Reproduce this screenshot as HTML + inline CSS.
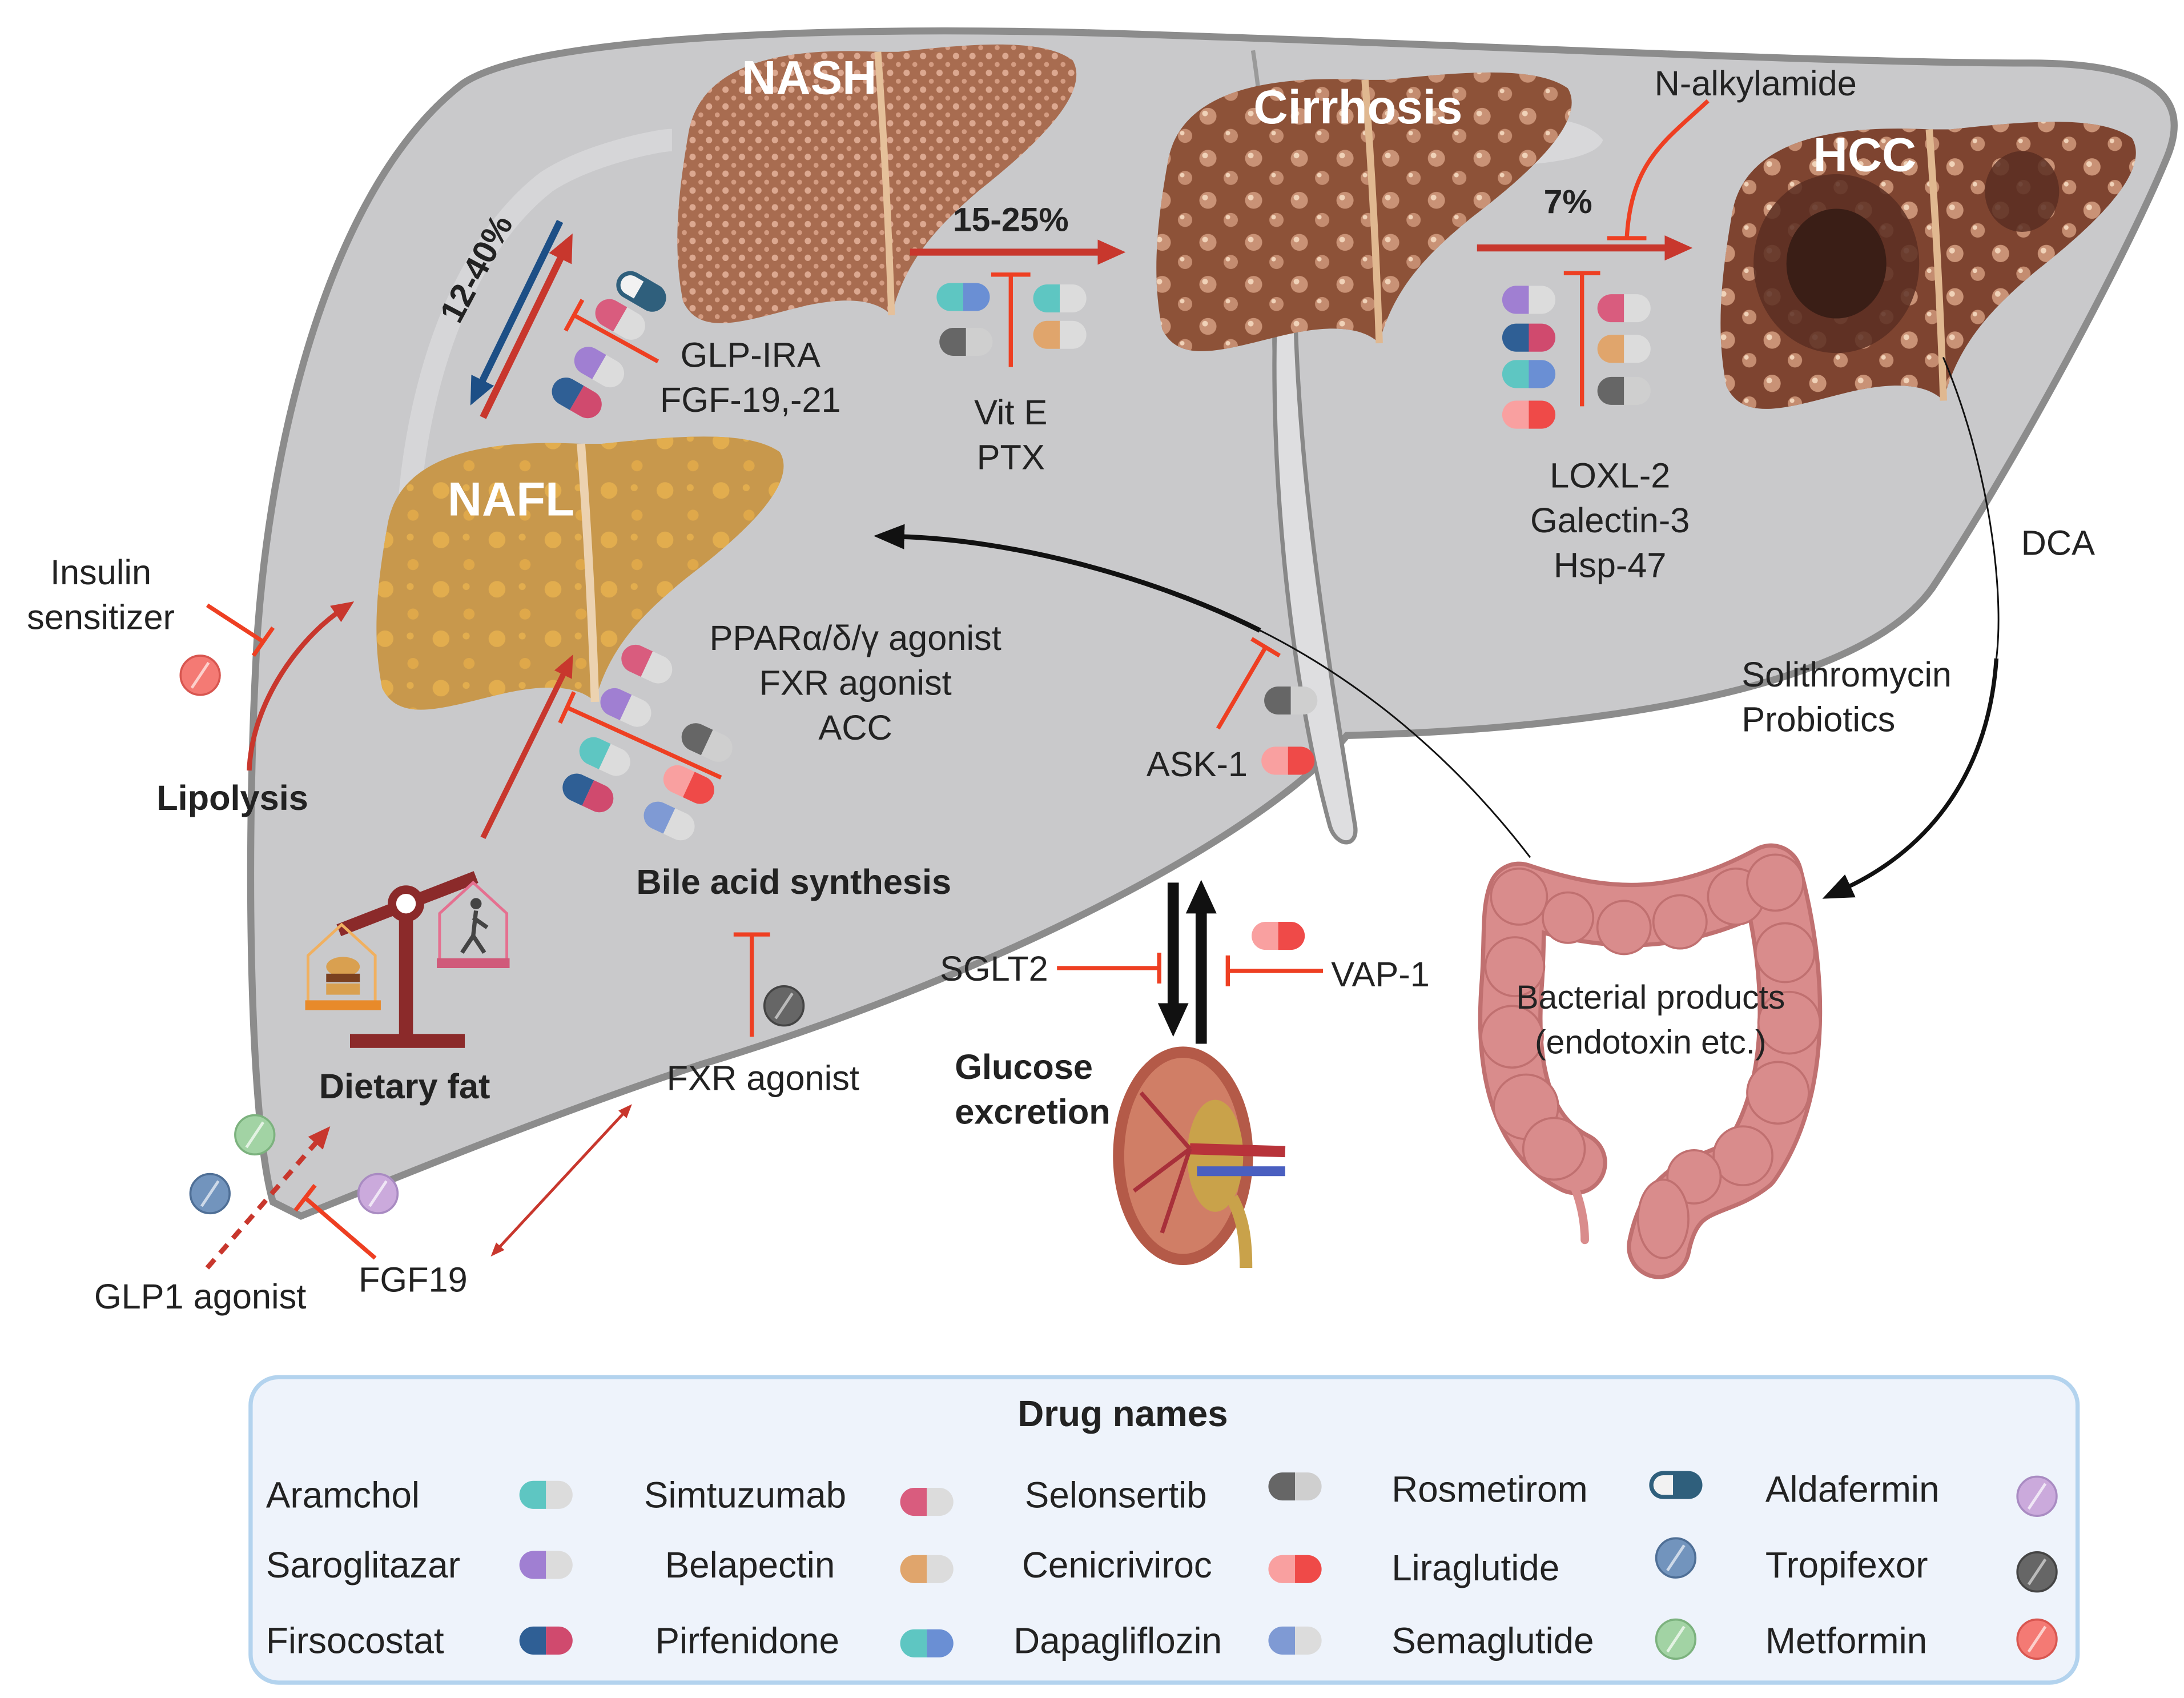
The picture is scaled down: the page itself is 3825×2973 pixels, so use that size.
<!DOCTYPE html>
<html><head><meta charset="utf-8"><style>
html,body{margin:0;padding:0;background:#fff;}
svg{display:block;}
text{font-family:"Liberation Sans Narrow","Liberation Sans",sans-serif;fill:#222;}
.b{font-weight:bold;}
.w{fill:#fff;font-weight:bold;}
</style></head><body>
<svg width="3825" height="2973" viewBox="0 0 1560 1212" preserveAspectRatio="none" xmlns="http://www.w3.org/2000/svg">
<defs>
<g id="pA"><path d="M0,-10H-9A10,10 0 0 0 -9,10H0Z" fill="#5ec6c2"/><path d="M0,-10H9A10,10 0 0 1 9,10H0Z" fill="#dcdcdc"/></g>
<g id="pS"><path d="M0,-10H-9A10,10 0 0 0 -9,10H0Z" fill="#d95c7e"/><path d="M0,-10H9A10,10 0 0 1 9,10H0Z" fill="#dcdcdc"/></g>
<g id="pSel"><path d="M0,-10H-9A10,10 0 0 0 -9,10H0Z" fill="#666"/><path d="M0,-10H9A10,10 0 0 1 9,10H0Z" fill="#cfcfcf"/></g>
<g id="pR"><rect x="-19" y="-10" width="38" height="20" rx="10" fill="#2f5f7c"/><path d="M-2,-7H-9A7,7 0 0 0 -9,7H-2Z" fill="#f2f2f2"/></g>
<g id="pSar"><path d="M0,-10H-9A10,10 0 0 0 -9,10H0Z" fill="#a07fd2"/><path d="M0,-10H9A10,10 0 0 1 9,10H0Z" fill="#dcdcdc"/></g>
<g id="pB"><path d="M0,-10H-9A10,10 0 0 0 -9,10H0Z" fill="#e0a56c"/><path d="M0,-10H9A10,10 0 0 1 9,10H0Z" fill="#dcdcdc"/></g>
<g id="pC"><path d="M0,-10H-9A10,10 0 0 0 -9,10H0Z" fill="#f9a0a0"/><path d="M0,-10H9A10,10 0 0 1 9,10H0Z" fill="#ef4a48"/></g>
<g id="pF"><path d="M0,-10H-9A10,10 0 0 0 -9,10H0Z" fill="#2f5f95"/><path d="M0,-10H9A10,10 0 0 1 9,10H0Z" fill="#d04a6e"/></g>
<g id="pP"><path d="M0,-10H-9A10,10 0 0 0 -9,10H0Z" fill="#5ec6c2"/><path d="M0,-10H9A10,10 0 0 1 9,10H0Z" fill="#6a8fd4"/></g>
<g id="pD"><path d="M0,-10H-9A10,10 0 0 0 -9,10H0Z" fill="#7f9ad4"/><path d="M0,-10H9A10,10 0 0 1 9,10H0Z" fill="#dcdcdc"/></g>
<g id="tAl"><circle r="14" fill="#cbaadc" stroke="#a98bc2" stroke-width="1.5"/><line x1="-6" y1="9" x2="6" y2="-9" stroke="#efe6f5" stroke-width="2"/></g>
<g id="tL"><circle r="14" fill="#7294bd" stroke="#4f6f96" stroke-width="1.5"/><line x1="-6" y1="9" x2="6" y2="-9" stroke="#cdd9e8" stroke-width="2"/></g>
<g id="tT"><circle r="14" fill="#666" stroke="#444" stroke-width="1.5"/><line x1="-6" y1="9" x2="6" y2="-9" stroke="#bbb" stroke-width="2"/></g>
<g id="tSe"><circle r="14" fill="#a2d3a4" stroke="#7cb27e" stroke-width="1.5"/><line x1="-6" y1="9" x2="6" y2="-9" stroke="#e3f2e3" stroke-width="2"/></g>
<g id="tM"><circle r="14" fill="#f47a74" stroke="#d85650" stroke-width="1.5"/><line x1="-6" y1="9" x2="6" y2="-9" stroke="#fcd0cc" stroke-width="2"/></g>
<path id="liv" d="M12,70 C20,25 70,8 150,12 L165,12 C220,6 270,2 292,18 C305,40 270,75 225,110 C195,135 170,160 160,200 C150,190 130,185 90,195 C50,205 20,215 8,190 C0,150 5,110 12,70Z"/>
<pattern id="ptN" width="12" height="12" patternUnits="userSpaceOnUse"><circle cx="3" cy="3" r="2.3" fill="#dca890"/><circle cx="9" cy="9" r="1.8" fill="#d49c82"/></pattern>
<pattern id="ptC" width="32" height="30" patternUnits="userSpaceOnUse"><circle cx="8" cy="8" r="6" fill="#c99276"/><circle cx="6" cy="6" r="2" fill="#f0d2b8"/><circle cx="24" cy="22" r="5" fill="#c48c70"/><circle cx="22" cy="20" r="1.6" fill="#f0d2b8"/></pattern>
<pattern id="ptF" width="40" height="36" patternUnits="userSpaceOnUse"><circle cx="10" cy="10" r="6" fill="#e2ad4e"/><circle cx="30" cy="28" r="4" fill="#dfa84a"/><circle cx="28" cy="8" r="2.5" fill="#e2ad4e"/></pattern>
<marker id="mrL" markerUnits="userSpaceOnUse" markerWidth="22" markerHeight="22" refX="4" refY="11" orient="auto"><path d="M0,2L20,11L0,20Z" fill="#c8372d"/></marker>
<marker id="mbL" markerUnits="userSpaceOnUse" markerWidth="22" markerHeight="22" refX="4" refY="11" orient="auto"><path d="M0,2L20,11L0,20Z" fill="#1d4f86"/></marker>
<marker id="mrM" markerUnits="userSpaceOnUse" markerWidth="18" markerHeight="18" refX="4" refY="9" orient="auto"><path d="M0,2L16,9L0,16Z" fill="#c8372d"/></marker>
<marker id="mrS" markerUnits="userSpaceOnUse" markerWidth="12" markerHeight="12" refX="2" refY="6" orient="auto-start-reverse"><path d="M0,2L10,6L0,10Z" fill="#c8372d"/></marker>
<marker id="mkL" markerUnits="userSpaceOnUse" markerWidth="26" markerHeight="26" refX="4" refY="13" orient="auto"><path d="M0,2L24,13L0,24Z" fill="#111"/></marker>
<marker id="mkM" markerUnits="userSpaceOnUse" markerWidth="24" markerHeight="22" refX="4" refY="11" orient="auto"><path d="M0,2L22,11L0,20Z" fill="#111"/></marker>
</defs>

<!-- big grey liver -->
<path d="M195,858 C178,800 175,600 184,450 C195,300 240,130 330,60 C380,25 600,18 800,24 C1000,30 1300,45 1450,45 C1540,45 1565,70 1548,112 C1520,180 1440,330 1380,420 C1330,490 1150,520 962,525 C900,600 700,700 500,760 C380,800 260,850 215,868 Z" fill="#c9c9cb" stroke="#8c8c8c" stroke-width="5"/>
<path d="M300,480 C275,380 300,200 390,130 C420,110 470,100 480,100" fill="none" stroke="#d6d6d8" stroke-width="16"/>
<path d="M895,36 C920,200 900,400 940,525" fill="none" stroke="#9a9a9a" stroke-width="3"/>
<path d="M912,200 C905,320 920,480 950,590 C955,605 970,605 968,590 C950,480 925,330 925,200Z" fill="#dedee0" stroke="#888" stroke-width="3"/>
<path d="M1000,90 C1080,80 1130,80 1145,100 C1140,115 1090,120 1040,118" fill="#d8d8da"/>

<!-- livers -->
<g transform="translate(480,25) scale(0.98,1.0)"><use href="#liv" fill="#a86c50"/><use href="#liv" fill="url(#ptN)"/><path d="M150,12 C155,80 158,140 160,200" stroke="#e5c09a" stroke-width="5" fill="none"/></g>
<g transform="translate(822,45) scale(1.02,1.0)"><use href="#liv" fill="#8d5238"/><use href="#liv" fill="url(#ptC)"/><path d="M150,12 C155,80 158,140 160,200" stroke="#e0b890" stroke-width="5" fill="none"/></g>
<g transform="translate(1225,80) scale(1.02,1.03)"><use href="#liv" fill="#7e4430"/><use href="#liv" fill="url(#ptC)"/><ellipse cx="85" cy="105" rx="58" ry="62" fill="#5a2e22" opacity="0.85"/><ellipse cx="85" cy="105" rx="35" ry="38" fill="#3a1e16"/><ellipse cx="215" cy="55" rx="26" ry="28" fill="#5a2e22" opacity="0.85"/><path d="M150,12 C155,80 158,140 160,200" stroke="#e0b890" stroke-width="5" fill="none"/></g>
<g transform="translate(265,305) scale(1.0,0.98)"><use href="#liv" fill="#c8984c"/><use href="#liv" fill="url(#ptF)"/><path d="M150,12 C155,80 158,140 160,200" stroke="#ecd2b0" stroke-width="6" fill="none"/></g>

<text x="578" y="67" class="w" font-size="34" text-anchor="middle">NASH</text>
<text x="970" y="88" class="w" font-size="34" text-anchor="middle">Cirrhosis</text>
<text x="1332" y="122" class="w" font-size="34" text-anchor="middle">HCC</text>
<text x="365" y="368" class="w" font-size="34" text-anchor="middle">NAFL</text>

<!-- progression arrows -->
<line x1="345" y1="298" x2="402" y2="181" stroke="#c8372d" stroke-width="5" marker-end="url(#mrL)"/>
<line x1="400" y1="158" x2="343" y2="275" stroke="#1d4f86" stroke-width="5" marker-end="url(#mbL)"/>
<text transform="translate(328,232) rotate(-62)" font-size="24" class="b">12-40%</text>
<line x1="650" y1="180" x2="788" y2="180" stroke="#c8372d" stroke-width="5" marker-end="url(#mrL)"/>
<text x="722" y="165" font-size="24" class="b" text-anchor="middle">15-25%</text>
<line x1="1055" y1="177" x2="1193" y2="177" stroke="#c8372d" stroke-width="5" marker-end="url(#mrL)"/>
<text x="1120" y="152" font-size="24" class="b" text-anchor="middle">7%</text>

<!-- inhibitors -->
<g stroke="#ee3f22" stroke-width="3" fill="none">
<path d="M722,196V262M708,196H736"/>
<path d="M1130,195V290M1117,195H1143"/>
<path d="M470,258L410,225M404,236L416,214"/>
<path d="M1220,72C1190,100 1165,115 1162,170M1148,170H1176"/>
<path d="M515,555L405,505M400,516L410,494"/>
<path d="M148,432L188,458M181,468L195,448"/>
<path d="M870,520L904,462M894,456L914,468"/>
<path d="M755,691H828M828,680V702"/>
<path d="M945,693H877M877,682V704"/>
<path d="M537,667V740M524,667H550"/>
<path d="M268,898L218,855M211,864L225,846"/>
</g>

<!-- red arrows -->
<path d="M178,550 C180,500 215,455 243,436" stroke="#c8372d" stroke-width="3.5" fill="none" marker-end="url(#mrM)"/>
<line x1="345" y1="598" x2="404" y2="478" stroke="#c8372d" stroke-width="4" marker-end="url(#mrM)"/>
<line x1="148" y1="905" x2="228" y2="813" stroke="#c8372d" stroke-width="3.5" stroke-dasharray="8,6" marker-end="url(#mrM)"/>
<line x1="356" y1="891" x2="446" y2="794" stroke="#c8372d" stroke-width="2" marker-end="url(#mrS)" marker-start="url(#mrS)"/>

<!-- black arrows -->
<line x1="838" y1="630" x2="838" y2="720" stroke="#111" stroke-width="8" marker-end="url(#mkL)"/>
<line x1="858" y1="745" x2="858" y2="648" stroke="#111" stroke-width="8" marker-end="url(#mkL)"/>
<path d="M1093,612 C1030,530 960,480 900,450" stroke="#111" stroke-width="1.2" fill="none"/>
<path d="M900,450 C820,410 720,385 642,383" stroke="#111" stroke-width="3.5" fill="none" marker-end="url(#mkM)"/>
<path d="M1388,255 C1420,330 1432,420 1426,470" stroke="#111" stroke-width="1.2" fill="none"/>
<path d="M1426,470 C1420,560 1370,610 1318,634" stroke="#111" stroke-width="3" fill="none" marker-end="url(#mkM)"/>

<!-- pills in diagram -->
<use href="#pR" transform="translate(458,208) rotate(30)"/>
<use href="#pS" transform="translate(443,228) rotate(30)"/>
<use href="#pSar" transform="translate(428,262) rotate(30)"/>
<use href="#pF" transform="translate(412,284) rotate(30)"/>
<use href="#pP" transform="translate(688,212)"/>
<use href="#pSel" transform="translate(690,244)"/>
<use href="#pA" transform="translate(757,213)"/>
<use href="#pB" transform="translate(757,239)"/>
<use href="#pSar" transform="translate(1092,214)"/>
<use href="#pF" transform="translate(1092,241)"/>
<use href="#pP" transform="translate(1092,267)"/>
<use href="#pC" transform="translate(1092,296)"/>
<use href="#pS" transform="translate(1160,220)"/>
<use href="#pB" transform="translate(1160,249)"/>
<use href="#pSel" transform="translate(1160,279)"/>
<use href="#pS" transform="translate(462,474) rotate(25)"/>
<use href="#pSar" transform="translate(447,505) rotate(25)"/>
<use href="#pA" transform="translate(432,540) rotate(25)"/>
<use href="#pF" transform="translate(420,566) rotate(25)"/>
<use href="#pSel" transform="translate(505,530) rotate(25)"/>
<use href="#pC" transform="translate(492,560) rotate(25)"/>
<use href="#pD" transform="translate(478,586) rotate(25)"/>
<use href="#pSel" transform="translate(922,500)"/>
<use href="#pC" transform="translate(920,543)"/>
<use href="#pC" transform="translate(913,668)"/>
<use href="#tM" transform="translate(143,482)"/>
<use href="#tT" transform="translate(560,718)"/>
<use href="#tSe" transform="translate(182,810)"/>
<use href="#tL" transform="translate(150,852)"/>
<use href="#tAl" transform="translate(270,852)"/>

<!-- balance -->
<g>
<rect x="285" y="645" width="10" height="98" fill="#8b2a2a"/>
<rect x="250" y="738" width="82" height="10" fill="#8b2a2a"/>
<line x1="242" y1="664" x2="340" y2="626" stroke="#8b2a2a" stroke-width="9"/>
<circle cx="290" cy="645" r="10" fill="#fff" stroke="#8b2a2a" stroke-width="6"/>
<path d="M220,718V682L244,660L268,682V718" fill="none" stroke="#f0b060" stroke-width="2"/>
<rect x="218" y="714" width="54" height="7" fill="#e88a2a"/>
<ellipse cx="245" cy="690" rx="12" ry="7" fill="#d9a050"/><rect x="233" y="695" width="24" height="6" fill="#7a4020"/><rect x="233" y="702" width="24" height="8" fill="#d9a050"/>
<path d="M314,686V652L338,630L362,652V686" fill="none" stroke="#e57090" stroke-width="2"/>
<rect x="312" y="684" width="52" height="7" fill="#d05a7a"/>
<circle cx="340" cy="645" r="4" fill="#444"/><path d="M340,650L338,668L330,680M338,668L346,680M338,655L348,662" stroke="#444" stroke-width="3" fill="none"/>
</g>

<!-- kidney -->
<g>
<ellipse cx="845" cy="825" rx="50" ry="78" fill="#b45a48"/>
<ellipse cx="845" cy="825" rx="42" ry="70" fill="#d07e66"/>
<ellipse cx="868" cy="825" rx="20" ry="40" fill="#c9a24a"/>
<path d="M880,855 C888,870 890,885 890,905" stroke="#c9a24a" stroke-width="9" fill="none"/>
<path d="M850,820 L918,822" stroke="#b8333a" stroke-width="8"/>
<path d="M855,836 L918,836" stroke="#4a5fc0" stroke-width="7"/>
<path d="M850,820 L815,780 M850,820 L810,850 M850,820 L830,880" stroke="#a8303a" stroke-width="3"/>
</g>

<!-- colon -->
<g fill="none" stroke-linecap="round" stroke-linejoin="round">
<path d="M1125,830 C1085,810 1075,760 1080,700 C1082,670 1080,650 1085,638 C1150,660 1200,660 1265,625 C1285,700 1285,780 1250,830 C1225,850 1195,840 1185,890" stroke="#c07070" stroke-width="46"/>
<path d="M1125,830 C1085,810 1075,760 1080,700 C1082,670 1080,650 1085,638 C1150,660 1200,660 1265,625 C1285,700 1285,780 1250,830 C1225,850 1195,840 1185,890" stroke="#d98c8c" stroke-width="40"/>
<path d="M1118,835 C1128,850 1132,870 1132,885" stroke="#d98c8c" stroke-width="6"/>
</g>
<g fill="#d98c8c" stroke="#c07070" stroke-width="1.5">
<circle cx="1085" cy="640" r="20"/><circle cx="1120" cy="655" r="18"/><circle cx="1160" cy="662" r="19"/><circle cx="1200" cy="658" r="19"/><circle cx="1240" cy="640" r="20"/><circle cx="1268" cy="630" r="20"/>
<circle cx="1082" cy="690" r="21"/><circle cx="1080" cy="740" r="22"/><circle cx="1090" cy="790" r="23"/><circle cx="1110" cy="820" r="22"/>
<circle cx="1275" cy="680" r="21"/><circle cx="1278" cy="730" r="22"/><circle cx="1270" cy="780" r="22"/><circle cx="1245" cy="825" r="21"/><circle cx="1210" cy="840" r="19"/>
<ellipse cx="1188" cy="870" rx="18" ry="28"/>
</g>

<!-- labels -->
<g font-size="25">
<text x="536" y="262" text-anchor="middle">GLP-IRA</text>
<text x="536" y="294" text-anchor="middle">FGF-19,-21</text>
<text x="722" y="303" text-anchor="middle">Vit E</text>
<text x="722" y="335" text-anchor="middle">PTX</text>
<text x="1254" y="68" text-anchor="middle">N-alkylamide</text>
<text x="1150" y="348" text-anchor="middle">LOXL-2</text>
<text x="1150" y="380" text-anchor="middle">Galectin-3</text>
<text x="1150" y="412" text-anchor="middle">Hsp-47</text>
<text x="1470" y="396" text-anchor="middle">DCA</text>
<text x="1244" y="490">Solithromycin</text>
<text x="1244" y="522">Probiotics</text>
<text x="72" y="417" text-anchor="middle">Insulin</text>
<text x="72" y="449" text-anchor="middle">sensitizer</text>
<text x="611" y="464" text-anchor="middle">PPARα/δ/γ agonist</text>
<text x="611" y="496" text-anchor="middle">FXR agonist</text>
<text x="611" y="528" text-anchor="middle">ACC</text>
<text x="855" y="554" text-anchor="middle">ASK-1</text>
<text x="710" y="700" text-anchor="middle">SGLT2</text>
<text x="986" y="704" text-anchor="middle">VAP-1</text>
<text x="545" y="778" text-anchor="middle">FXR agonist</text>
<text x="143" y="934" text-anchor="middle">GLP1 agonist</text>
<text x="295" y="922" text-anchor="middle">FGF19</text>
<text x="1179" y="720" text-anchor="middle" style="font-family:'Liberation Sans',sans-serif" font-size="24">Bacterial products</text>
<text x="1179" y="752" text-anchor="middle" style="font-family:'Liberation Sans',sans-serif" font-size="24">(endotoxin etc.)</text>
</g>
<g font-size="25" class="b">
<text x="166" y="578" text-anchor="middle" class="b">Lipolysis</text>
<text x="567" y="638" text-anchor="middle" class="b">Bile acid synthesis</text>
<text x="289" y="784" text-anchor="middle" class="b">Dietary fat</text>
<text x="682" y="770" class="b">Glucose</text>
<text x="682" y="802" class="b">excretion</text>
</g>

<!-- legend -->
<rect x="179" y="983" width="1305" height="218" rx="20" fill="#eef3fb" stroke="#b3d3ee" stroke-width="3"/>
<text x="802" y="1018" font-size="26" class="b" text-anchor="middle">Drug names</text>
<g font-size="26">
<text x="190" y="1076">Aramchol</text><text x="190" y="1126">Saroglitazar</text><text x="190" y="1180">Firsocostat</text>
<text x="460" y="1076">Simtuzumab</text><text x="475" y="1126">Belapectin</text><text x="468" y="1180">Pirfenidone</text>
<text x="732" y="1076">Selonsertib</text><text x="730" y="1126">Cenicriviroc</text><text x="724" y="1180">Dapagliflozin</text>
<text x="994" y="1072">Rosmetirom</text><text x="994" y="1128">Liraglutide</text><text x="994" y="1180">Semaglutide</text>
<text x="1261" y="1072">Aldafermin</text><text x="1261" y="1126">Tropifexor</text><text x="1261" y="1180">Metformin</text>
</g>
<use href="#pA" transform="translate(390,1067)"/>
<use href="#pSar" transform="translate(390,1117)"/>
<use href="#pF" transform="translate(390,1171)"/>
<use href="#pS" transform="translate(662,1072)"/>
<use href="#pB" transform="translate(662,1120)"/>
<use href="#pP" transform="translate(662,1173)"/>
<use href="#pSel" transform="translate(925,1061)"/>
<use href="#pC" transform="translate(925,1120)"/>
<use href="#pD" transform="translate(925,1171)"/>
<use href="#pR" transform="translate(1197,1060)"/>
<use href="#tL" transform="translate(1197,1112)"/>
<use href="#tSe" transform="translate(1197,1170)"/>
<use href="#tAl" transform="translate(1455,1068)"/>
<use href="#tT" transform="translate(1455,1122)"/>
<use href="#tM" transform="translate(1455,1170)"/>
</svg>
</body></html>
